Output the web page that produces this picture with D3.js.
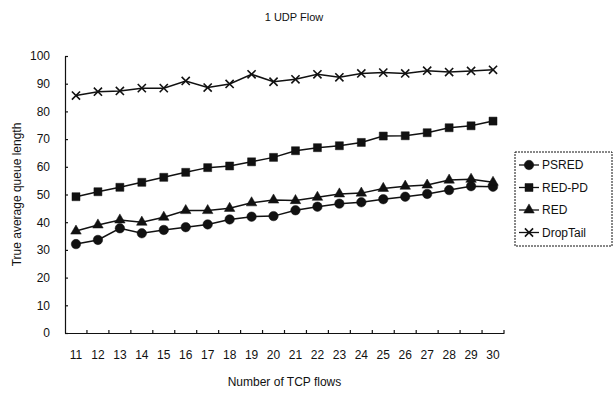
<!DOCTYPE html>
<html>
<head>
<meta charset="utf-8">
<script src="https://cdn.jsdelivr.net/npm/d3@7/dist/d3.min.js"></script>
<style>
  html, body { margin: 0; padding: 0; background: #fff; }
  svg { display: block; }
</style>
</head>
<body>
<svg id="chart"></svg>
<script>
// Data
const tcpFlows = [11, 12, 13, 14, 15, 16, 17, 18, 19, 20, 21, 22, 23, 24, 25, 26, 27, 28, 29, 30];
const psred    = [32.1, 33.6, 37.8, 36.0, 37.2, 38.2, 39.2, 41.0, 42.0, 42.2, 44.3, 45.6, 46.7, 47.2, 48.3, 49.2, 50.2, 51.6, 53.0, 52.8];
const redPd    = [49.2, 51.0, 52.6, 54.4, 56.2, 58.0, 59.7, 60.3, 61.8, 63.4, 65.8, 66.9, 67.6, 68.8, 71.1, 71.2, 72.3, 74.1, 74.8, 76.5];
const red      = [36.8, 39.0, 40.8, 40.0, 41.8, 44.2, 44.2, 45.0, 47.0, 48.0, 47.8, 49.0, 50.2, 50.5, 52.2, 53.0, 53.4, 55.2, 55.5, 54.4];
const dropTail = [85.7, 87.1, 87.4, 88.4, 88.4, 91.0, 88.6, 89.9, 93.4, 90.7, 91.6, 93.4, 92.3, 93.7, 94.0, 93.7, 94.7, 94.2, 94.6, 95.0];
const seriesNames = ["PSRED", "RED-PD", "RED", "DropTail"];
const yTicks = [0, 10, 20, 30, 40, 50, 60, 70, 80, 90, 100];

const width = 615, height = 394;
const margin = { top: 56, right: 111, bottom: 61, left: 65 };
const plotW = width - margin.left - margin.right;
const plotH = height - margin.top - margin.bottom;
const font = "'Liberation Sans', Arial, sans-serif";

const svg = d3.select("#chart")
    .attr("width", width)
    .attr("height", height)
    .attr("font-family", font);

const x = d3.scaleBand().domain(tcpFlows).range([0, plotW]);
const y = d3.scaleLinear().domain([0, 100]).range([plotH, 0]);

const g = svg.append("g").attr("transform", `translate(${margin.left},${margin.top})`);

// Title
svg.append("text")
    .attr("x", 294).attr("y", 21)
    .attr("text-anchor", "middle")
    .attr("font-size", "11px")
    .attr("fill", "#111")
    .text("1 UDP Flow");

// Y axis (ticks pointing inwards)
const yAxis = d3.axisLeft(y).tickValues(yTicks).tickSizeInner(-3).tickSizeOuter(0).tickPadding(15);
const yG = g.append("g").call(yAxis);
yG.selectAll("text").attr("font-size", "12px").attr("font-family", font).attr("fill", "#111");
yG.selectAll("line, path").attr("stroke", "#111").attr("stroke-width", 1.2);

// X axis: labels at band centres, tick marks at band boundaries
const xAxis = d3.axisBottom(x).tickSize(0).tickPadding(17);
const xG = g.append("g").attr("transform", `translate(0,${plotH})`).call(xAxis);
xG.selectAll("text").attr("font-size", "12px").attr("font-family", font).attr("fill", "#111");
xG.select("path").attr("stroke", "#111").attr("stroke-width", 1.2);
xG.selectAll(".boundary")
    .data(tcpFlows.slice(1).map(d => x(d)).concat([plotW]))
    .join("line")
    .attr("class", "boundary")
    .attr("x1", d => d).attr("x2", d => d)
    .attr("y1", 0).attr("y2", -3)
    .attr("stroke", "#111").attr("stroke-width", 1.2);

// Axis titles
svg.append("text")
    .attr("x", margin.left + plotW / 2).attr("y", 386)
    .attr("text-anchor", "middle")
    .attr("font-size", "12px").attr("fill", "#111")
    .text("Number of TCP flows");

svg.append("text")
    .attr("transform", `translate(21,${margin.top + plotH / 2}) rotate(-90)`)
    .attr("text-anchor", "middle")
    .attr("font-size", "12px").attr("fill", "#111")
    .text("True average queue length");

// Series
const seriesData = [psred, redPd, red, dropTail];
const symbols = [d3.symbolCircle, d3.symbolSquare, d3.symbolTriangle, d3.symbolX];
const symbolSizes = [70, 64, 48, 45];

const line = d3.line()
    .x((d, i) => x(tcpFlows[i]) + x.bandwidth() / 2)
    .y(d => y(d));

function drawMarker(sel, k) {
    const s = d3.symbol().type(symbols[k]).size(symbolSizes[k]);
    sel.attr("d", s)
        .attr("fill", k === 3 ? "none" : "#111")
        .attr("stroke", "#111")
        .attr("stroke-width", k === 3 ? 1.6 : 0.5);
}

seriesData.forEach((vals, k) => {
    g.append("path")
        .datum(vals)
        .attr("fill", "none")
        .attr("stroke", "#111")
        .attr("stroke-width", 1.5)
        .attr("d", line);

    g.selectAll(".m" + k)
        .data(vals)
        .join("path")
        .attr("class", "m" + k)
        .attr("transform", (d, i) => `translate(${x(tcpFlows[i]) + x.bandwidth() / 2},${y(d)})`)
        .call(drawMarker, k);
});

// Legend
const legend = svg.append("g").attr("transform", "translate(515,152)");
legend.append("rect")
    .attr("width", 97).attr("height", 94)
    .attr("fill", "#fff")
    .attr("stroke", "#111").attr("stroke-width", 1)
    .attr("stroke-dasharray", "2,1");

seriesNames.forEach((name, k) => {
    const row = legend.append("g").attr("transform", `translate(0,${13 + k * 22.5})`);
    row.append("line")
        .attr("x1", 4).attr("x2", 24)
        .attr("stroke", "#111").attr("stroke-width", 1.3);
    row.append("path")
        .attr("transform", "translate(14,0)")
        .call(drawMarker, k);
    row.append("text")
        .attr("x", 27).attr("y", 4)
        .attr("font-size", "12px").attr("fill", "#111")
        .text(name);
});
</script>
</body>
</html>
